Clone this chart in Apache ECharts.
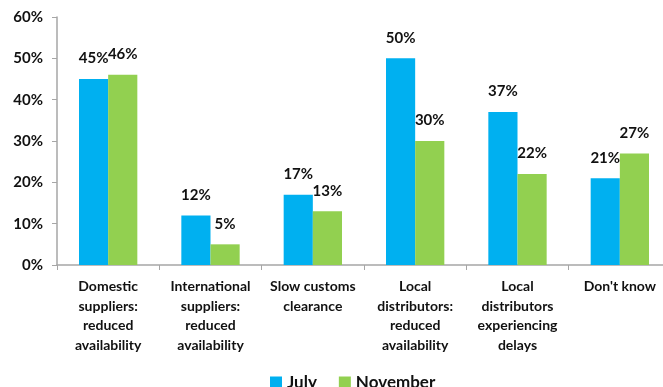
<!DOCTYPE html>
<html>
<head>
<meta charset="utf-8">
<script src="https://cdn.jsdelivr.net/npm/echarts@6/dist/echarts.min.js"></script>
<style>
  html, body { margin: 0; padding: 0; background: #fff; }
  #chart { width: 663px; height: 387px; }
</style>
</head>
<body>
<div id="chart"></div>
<script>
// Reasons cited for supply problems, two survey waves
const categories = [
  'Domestic\nsuppliers:\nreduced\navailability',
  'International\nsuppliers:\nreduced\navailability',
  'Slow customs\nclearance',
  'Local\ndistributors:\nreduced\navailability',
  'Local\ndistributors\nexperiencing\ndelays',
  "Don't know"
];
const julyValues = [45, 12, 17, 50, 37, 21];
const novemberValues = [46, 5, 13, 30, 22, 27];
const yTicks = [0, 10, 20, 30, 40, 50, 60];

const FONT = 'Lato, "Open Sans", sans-serif';

const chart = echarts.init(document.getElementById('chart'));

const labelStyle = {
  show: true,
  position: 'top',
  distance: 13,
  formatter: p => p.value + '%',
  fontFamily: FONT,
  fontWeight: 'bold',
  fontSize: 15,
  color: '#111'
};

chart.setOption({
  animation: false,
  textStyle: { fontFamily: FONT },
  // plot area runs slightly past the right edge of the canvas
  grid: {
    left: 57, width: 614, top: 17, height: 248,
    containLabel: false,
    outerBoundsMode: 'none'
  },
  legend: {
    top: 369,
    left: 265,
    itemWidth: 12,
    itemHeight: 12,
    itemGap: 22,
    icon: 'rect',
    textStyle: { fontFamily: FONT, fontWeight: 'bold', fontSize: 17, color: '#111' },
    data: ['July', 'November']
  },
  xAxis: {
    type: 'category',
    data: categories,
    axisLine: { lineStyle: { color: '#a6a6a6', width: 1.5 } },
    axisTick: { show: true, length: 5, lineStyle: { color: '#a6a6a6' } },
    axisLabel: {
      interval: 0,
      margin: 12,
      fontFamily: FONT,
      fontWeight: 'bold',
      fontSize: 14,
      lineHeight: 19.5,
      color: '#111',
      align: 'center'
    }
  },
  yAxis: {
    type: 'value',
    min: yTicks[0],
    max: yTicks[yTicks.length - 1],
    interval: 10,
    axisLine: { show: true, lineStyle: { color: '#a6a6a6', width: 1.5 } },
    axisTick: { show: true, length: 5, lineStyle: { color: '#a6a6a6' } },
    splitLine: { show: false },
    axisLabel: {
      margin: 14,
      formatter: v => v + '%',
      fontFamily: FONT,
      fontWeight: 'bold',
      fontSize: 15,
      color: '#111'
    }
  },
  series: [
    {
      name: 'July',
      type: 'bar',
      data: julyValues,
      barGap: '0%',
      barCategoryGap: '43%',
      itemStyle: { color: '#00B0F0' },
      label: labelStyle
    },
    {
      name: 'November',
      type: 'bar',
      data: novemberValues,
      itemStyle: { color: '#92D050' },
      label: labelStyle
    }
  ]
});
</script>
</body>
</html>
